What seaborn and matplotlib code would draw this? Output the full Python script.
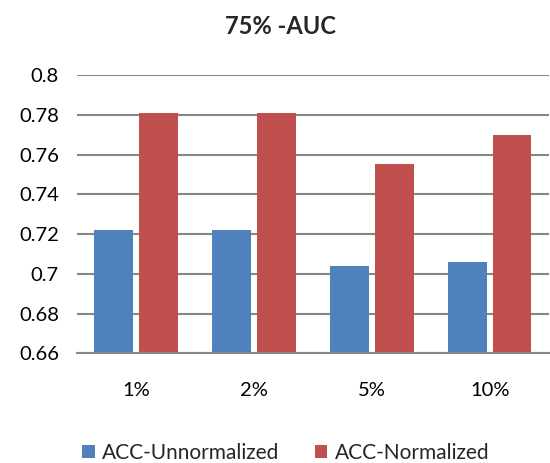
import matplotlib
matplotlib.use("Agg")
import matplotlib.pyplot as plt
import seaborn as sns
import pandas as pd

# Chart data
categories = ["1%", "2%", "5%", "10%"]
acc_unnormalized = [0.722, 0.722, 0.704, 0.706]
acc_normalized = [0.781, 0.781, 0.755, 0.770]
series_names = ["ACC-Unnormalized", "ACC-Normalized"]
y_ticks = [0.66, 0.68, 0.7, 0.72, 0.74, 0.76, 0.78, 0.8]
y_tick_labels = ["0.66", "0.68", "0.7", "0.72", "0.74", "0.76", "0.78", "0.8"]

df = pd.DataFrame({
    "category": categories * 2,
    "value": acc_unnormalized + acc_normalized,
    "series": [series_names[0]] * 4 + [series_names[1]] * 4,
})

sns.set_theme(style="white")
plt.rcParams["font.family"] = ["Lato", "DejaVu Sans"]

fig = plt.figure(figsize=(5.5, 4.63), dpi=100)
ax = fig.add_axes([0.14, 0.237, 0.858, 0.601])

palette = {series_names[0]: "#4F81BD", series_names[1]: "#C0504D"}
sns.barplot(data=df, x="category", y="value", hue="series", order=categories,
            hue_order=series_names, palette=palette, width=0.75, gap=0.12,
            saturation=1, linewidth=0, ax=ax, legend=True)

ax.set_ylim(0.66, 0.8)
ax.set_yticks(y_ticks)
ax.set_yticklabels(y_tick_labels)
ax.set_xlim(-0.5, 3.5)
ax.yaxis.grid(True, color="#868686", linewidth=1.5)
ax.set_axisbelow(True)
for side in ["left", "right", "top"]:
    ax.spines[side].set_visible(False)
ax.spines["bottom"].set_color("#868686")
ax.spines["bottom"].set_linewidth(1.5)
ax.tick_params(axis="both", length=0, labelsize=14.5, colors="black")
ax.tick_params(axis="x", pad=21)
ax.tick_params(axis="y", pad=13)
ax.set_xlabel("")
ax.set_ylabel("")

fig.text(0.51, 0.943, "75% -AUC", ha="center", va="center",
         fontsize=17, fontweight="bold")

handles, labels = ax.get_legend_handles_labels()
ax.get_legend().remove()
fig.legend(handles, labels, loc="center", bbox_to_anchor=(0.519, 0.022),
           ncol=2, frameon=False, fontsize=15, handlelength=0.62,
           handleheight=0.62, handletextpad=0.34, columnspacing=1.7,
           borderpad=0)

fig.savefig("out.png", dpi=100)
